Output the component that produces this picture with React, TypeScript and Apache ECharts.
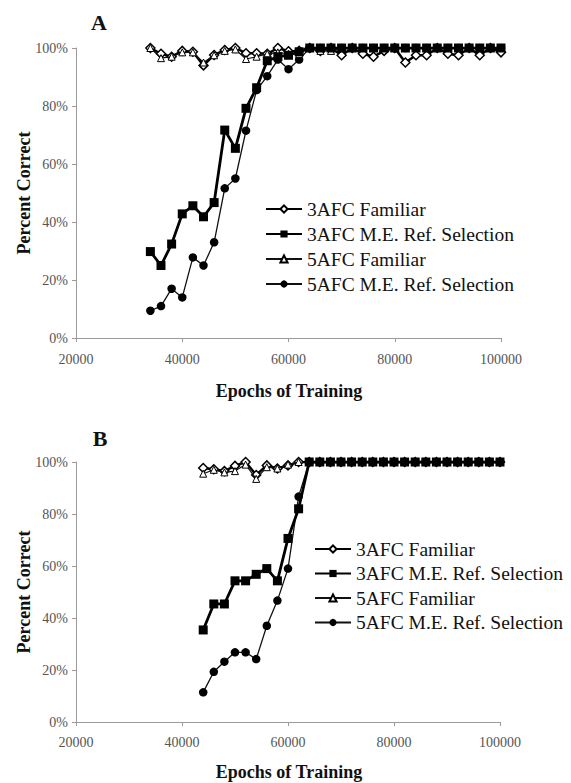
import React, { useEffect, useRef } from "react";
import * as echarts from "echarts";

// ---------- Panel A data ----------
const epochsA = [
  34000, 36000, 38000, 40000, 42000, 44000, 46000, 48000, 50000, 52000, 54000, 56000,
  58000, 60000, 62000, 64000, 66000, 68000, 70000, 72000, 74000, 76000, 78000, 80000,
  82000, 84000, 86000, 88000, 90000, 92000, 94000, 96000, 98000, 100000,
];
const a3AfcFamiliar = [
  100, 98, 97, 99, 98.7, 94, 97.6, 99.3, 100, 98.2, 98.2, 98, 100, 98.9, 99, 100, 99, 100,
  97.5, 100, 98, 97, 99, 100, 95, 97.5, 97.5, 100, 98, 97.5, 100, 97.5, 100, 98.5,
];
const a3AfcME = [
  29.8, 25, 32.4, 42.8, 45.6, 41.8, 46.7, 71.7, 65.4, 79.2, 86.3, 95.6, 97, 97.5, 98.7, 100,
  100, 100, 100, 100, 100, 100, 100, 100, 100, 100, 100, 100, 100, 100, 100, 100, 100, 100,
];
const a5AfcFamiliar = [
  100, 96.5, 97, 98.5, 98.5, 95, 97.5, 99, 99.5, 96.2, 97, 98, 98.5, 98, 98, 100, 99, 99,
  100, 100, 100, 100, 100, 100, 100, 100, 100, 100, 100, 100, 100, 100, 100, 100,
];
const a5AfcME = [
  9.4, 11, 17, 14, 27.8, 25, 33, 51.6, 55, 71.5, 85.5, 90.3, 96, 92.7, 96, 100, 100, 100,
  100, 100, 100, 100, 100, 100, 100, 100, 100, 100, 100, 100, 100, 100, 100, 100,
];

// ---------- Panel B data ----------
const epochsB = [
  44000, 46000, 48000, 50000, 52000, 54000, 56000, 58000, 60000, 62000, 64000, 66000,
  68000, 70000, 72000, 74000, 76000, 78000, 80000, 82000, 84000, 86000, 88000, 90000,
  92000, 94000, 96000, 98000, 100000,
];
const b3AfcFamiliar = [
  97.7, 97.2, 96.5, 98.5, 100, 95, 98.7, 97.5, 98.7, 100, 100, 100, 100, 100, 100, 100, 100,
  100, 100, 100, 100, 100, 100, 100, 100, 100, 100, 100, 100,
];
const b3AfcME = [
  35.4, 45.4, 45.4, 54.3, 54.3, 56.8, 59, 54.3, 70.6, 82, 100, 100, 100, 100, 100, 100, 100,
  100, 100, 100, 100, 100, 100, 100, 100, 100, 100, 100, 100,
];
const b5AfcFamiliar = [
  95.5, 97, 96, 96.5, 99, 93.5, 98, 97.5, 99, 100, 100, 100, 100, 100, 100, 100, 100, 100,
  100, 100, 100, 100, 100, 100, 100, 100, 100, 100, 100,
];
const b5AfcME = [
  11.4, 19.3, 23.2, 26.8, 26.8, 24.2, 37, 46.7, 59, 86.7, 100, 100, 100, 100, 100, 100, 100,
  100, 100, 100, 100, 100, 100, 100, 100, 100, 100, 100, 100,
];

const seriesNames = [
  "3AFC Familiar",
  "3AFC M.E. Ref. Selection",
  "5AFC Familiar",
  "5AFC M.E. Ref. Selection",
];
const xTicks = [20000, 40000, 60000, 80000, 100000];
const yTicks = [0, 20, 40, 60, 80, 100];

const FONT = "Liberation Serif";

const pair = (xs: number[], ys: number[]) => xs.map((x, i) => [x, ys[i]]);

function makeSeries(idx: number, xs: number[], vals: number[][]) {
  const styles = [
    {
      symbol: "diamond",
      symbolSize: 9,
      itemStyle: { color: "#fff", borderColor: "#000", borderWidth: 1.5 },
      lineStyle: { color: "#000", width: 2.5 },
      z: 3,
    },
    {
      symbol: "rect",
      symbolSize: 9,
      itemStyle: { color: "#000", borderColor: "#000", borderWidth: 0 },
      lineStyle: { color: "#000", width: 2.8 },
      z: 5,
    },
    {
      symbol: "triangle",
      symbolSize: 7,
      itemStyle: { color: "#fff", borderColor: "#000", borderWidth: 1 },
      lineStyle: { color: "#111", width: 1.2 },
      z: 4,
    },
    {
      symbol: "circle",
      symbolSize: 8.5,
      itemStyle: { color: "#000", borderColor: "#000", borderWidth: 0 },
      lineStyle: { color: "#111", width: 1.3 },
      z: 2,
    },
  ];
  return vals.map((v, k) => ({
    type: "line",
    name: seriesNames[k],
    xAxisIndex: idx,
    yAxisIndex: idx,
    data: pair(xs, v),
    showSymbol: true,
    ...styles[k],
    emphasis: { disabled: true },
  }));
}

export default function App() {
  const ref = useRef<HTMLDivElement>(null);
  useEffect(() => {
    if (!ref.current) return;
    const chart = echarts.init(ref.current, null, { renderer: "svg" });
    const axisGray = "#9a9a9a";
    const xAxisBase = (margin: number) => ({
      type: "value",
      min: xTicks[0],
      max: xTicks[xTicks.length - 1],
      interval: 20000,
      splitLine: { show: false },
      axisLine: { show: true, lineStyle: { color: axisGray, width: 1 } },
      axisTick: { show: true, length: 4, lineStyle: { color: axisGray } },
      axisLabel: {
        margin,
        color: "#555",
        fontFamily: FONT,
        fontSize: 14,
        formatter: (v: number) => String(v),
      },
    });
    const yAxisBase = () => ({
      type: "value",
      min: yTicks[0],
      max: yTicks[yTicks.length - 1],
      interval: 20,
      splitLine: { show: false },
      axisLine: { show: true, lineStyle: { color: axisGray, width: 1 } },
      axisTick: { show: true, length: 4, lineStyle: { color: axisGray } },
      axisLabel: {
        margin: 8,
        color: "#555",
        fontFamily: FONT,
        fontSize: 14,
        formatter: "{value}%",
      },
    });
    const legendBase = (left: number, top: number, gap: number) => ({
      orient: "vertical",
      left,
      top,
      padding: 0,
      itemWidth: 36,
      itemHeight: 9,
      itemGap: gap,
      data: seriesNames,
      selectedMode: false,
      textStyle: { fontFamily: FONT, fontSize: 19.5, color: "#111" },
    });
    const textEl = (text: string, x: number, y: number, size: number, rot = 0) => ({
      type: "text",
      x,
      y,
      rotation: rot,
      style: {
        text,
        fontFamily: FONT,
        fontWeight: "bold",
        fontSize: size,
        fill: "#111",
        textAlign: "center",
        textVerticalAlign: "middle",
      },
    });
    const option = {
      animation: false,
      backgroundColor: "#fff",
      textStyle: { fontFamily: FONT },
      grid: [
        { left: 76, top: 48, width: 425, height: 290 },
        { left: 76, top: 462, width: 424, height: 260 },
      ],
      xAxis: [xAxisBase(14), { ...xAxisBase(13), gridIndex: 1 }],
      yAxis: [yAxisBase(), { ...yAxisBase(), gridIndex: 1 }],
      legend: [legendBase(265, 199, 5), legendBase(314, 539, 4.5)],
      series: [
        ...makeSeries(0, epochsA, [a3AfcFamiliar, a3AfcME, a5AfcFamiliar, a5AfcME]),
        ...makeSeries(1, epochsB, [b3AfcFamiliar, b3AfcME, b5AfcFamiliar, b5AfcME]),
      ],
      graphic: [
        textEl("A", 99, 22, 22),
        textEl("B", 100, 438, 22),
        textEl("Percent Correct", 24, 193, 18, Math.PI / 2),
        textEl("Percent Correct", 24, 592, 18, Math.PI / 2),
        textEl("Epochs of Training", 289, 391, 18),
        textEl("Epochs of Training", 289, 772, 18),
      ],
    };
    chart.setOption(option as any);
    return () => chart.dispose();
  }, []);
  return (
    <div
      ref={ref}
      style={{ position: "absolute", left: 0, top: 0, width: 571, height: 783, background: "#fff" }}
    />
  );
}
